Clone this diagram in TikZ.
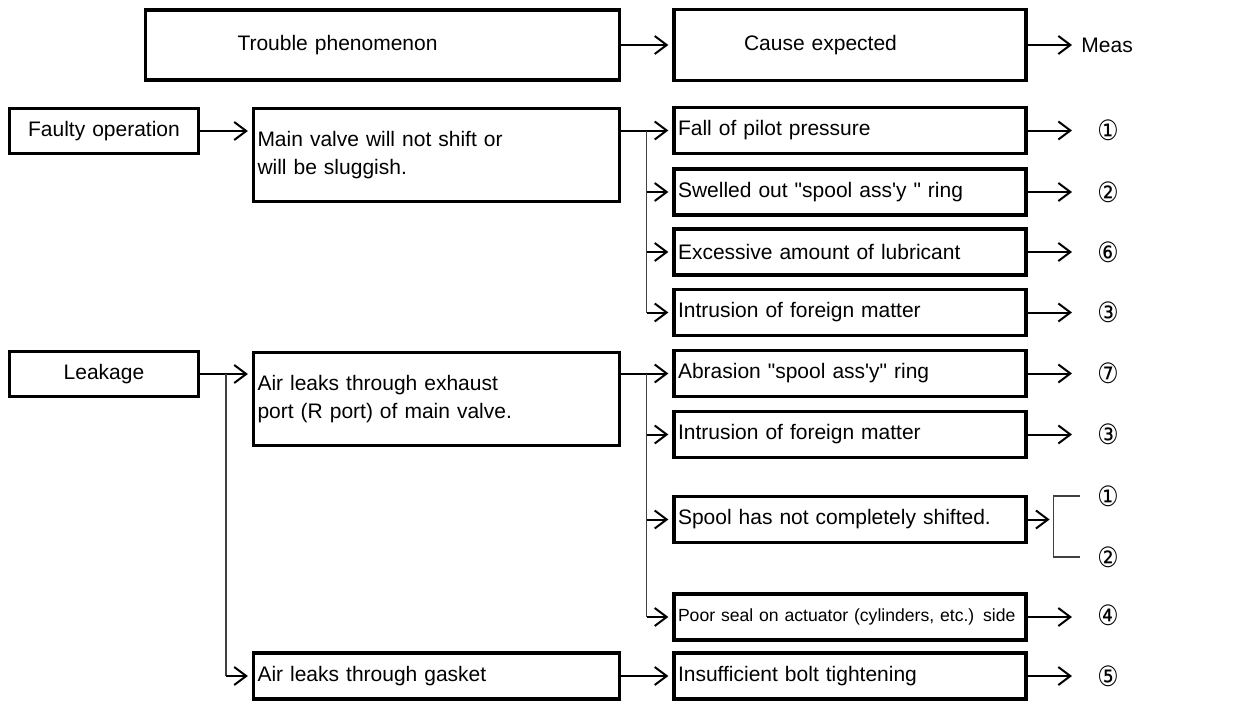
\documentclass[tikz,border=0pt]{standalone}
\usepackage{fontspec}
\usepackage{graphicx}
\usetikzlibrary{arrows.meta}
\usetikzlibrary{calc}
\newfontfamily\kastenfont{Liberation Sans}
\newfontfamily\zahlfont{DejaVu Sans}
\newcommand{\nr}[1]{\scalebox{0.85}[1]{#1}}

\begin{document}
\begin{tikzpicture}[x=0.5pt, y=-0.5pt,
	kasten/.style={draw, rectangle, line width=1.6pt, inner xsep=2pt, inner ysep=0pt, font=\kastenfont\fontsize{10.5}{14}\selectfont},
	kopf/.style={kasten, text width=172pt, align=left, minimum height=35.5pt},
	fehler/.style={kasten, text width=90.5pt, align=center, minimum height=22.5pt},
	phaen/.style={kasten, text width=179pt, align=left, minimum height=23pt},
	ursache/.style={kasten, text width=172pt, align=left, minimum height=23pt},
	nummer/.style={inner sep=0pt, font=\zahlfont\fontsize{14}{16}\selectfont},
	pfeil/.style={line width=1pt, -{Straight Barb[length=6pt,width=9pt]}, shorten >=2pt},
	ast/.style={line width=0.6pt, black!75}]

	\useasboundingbox (0,0) rectangle (1239,702);

	% Kopfzeile
	\node[kopf, text width=233pt, minimum height=35pt] (TP) at (382.5,45) {\hspace*{44pt}Trouble phenomenon};
	\node[kopf] (CE) at (850,45) {\hspace*{33pt}Cause expected};
	\node[anchor=west, inner sep=0pt, font=\kastenfont\fontsize{10.5}{14}\selectfont] (ME) at (1081,45) {Meas};

	\coordinate (spitze) at (1076,0);

	\draw[pfeil] (TP.east) -- (CE.west);
	\draw[pfeil] (CE.east) -- (CE.east -| spitze);

	% Faulty operation
	\node[fehler] (FO) at (104,131) {Faulty operation};
	\node[phaen, minimum height=46.5pt] (MV) at (436.5,155) {Main valve will not shift or\\will be sluggish.};

	\node[ursache] (U1) at (850,130.5) {Fall of pilot pressure};
	\node[ursache] (U2) at (850,192) {Swelled out "spool ass'y " ring};
	\node[ursache] (U3) at (850,252) {Excessive amount of lubricant};
	\node[ursache] (U4) at (850,312.5) {Intrusion of foreign matter};

	\node[nummer] (N1) at (1108,130) {\nr{①}};
	\node[nummer] (N2) at (1108,192) {\nr{②}};
	\node[nummer] (N3) at (1108,252) {\nr{⑥}};
	\node[nummer] (N4) at (1108,312) {\nr{③}};

	\draw[pfeil] (FO.east) -- (FO.east -| MV.west);

	\coordinate (G1) at ($(MV.east |- U1.west)!0.5!(U1.west)$);
	\draw[pfeil] (MV.east |- U1.west) -- (U1.west);
	\draw[ast] (G1) -- (G1 |- U4.west);
	\draw[pfeil] (G1 |- U2.west) -- (U2.west);
	\draw[pfeil] (G1 |- U3.west) -- (U3.west);
	\draw[pfeil] (G1 |- U4.west) -- (U4.west);

	\draw[pfeil] (U1.east) -- (U1.east -| spitze);
	\draw[pfeil] (U2.east) -- (U2.east -| spitze);
	\draw[pfeil] (U3.east) -- (U3.east -| spitze);
	\draw[pfeil] (U4.east) -- (U4.east -| spitze);

	% Leakage
	\node[fehler] (LK) at (104,374) {Leakage};
	\node[phaen, minimum height=46.5pt] (AE) at (436.5,399) {Air leaks through exhaust\\port (R port) of main valve.};
	\node[phaen] (GA) at (436.5,676) {Air leaks through gasket};

	\node[ursache] (U5) at (850,373.5) {Abrasion "spool ass'y" ring};
	\node[ursache] (U6) at (850,434.5) {Intrusion of foreign matter};
	\node[ursache] (U7) at (850,519.5) {Spool has not completely shifted.};
	\node[ursache, font=\kastenfont\fontsize{8.8}{12}\selectfont] (U8) at (850,617) {Poor seal on actuator (cylinders, etc.) side};
	\node[ursache] (U9) at (850,676) {Insufficient bolt tightening};

	\node[nummer] (N5) at (1108,373) {\nr{⑦}};
	\node[nummer] (N6) at (1108,434) {\nr{③}};
	\node[nummer] (N7) at (1108,496) {\nr{①}};
	\node[nummer] (N8) at (1108,557) {\nr{②}};
	\node[nummer] (N9) at (1108,615) {\nr{④}};
	\node[nummer] (N10) at (1108,676) {\nr{⑤}};

	\coordinate (G0) at ($(LK.east)!0.5!(LK.east -| AE.west)$);
	\draw[pfeil] (LK.east) -- (LK.east -| AE.west);
	\draw[ast] (G0) -- (G0 |- GA.west);
	\draw[pfeil] (G0 |- GA.west) -- (GA.west);

	\coordinate (G2) at ($(AE.east |- U5.west)!0.5!(U5.west)$);
	\draw[pfeil] (AE.east |- U5.west) -- (U5.west);
	\draw[ast] (G2) -- (G2 |- U8.west);
	\draw[pfeil] (G2 |- U6.west) -- (U6.west);
	\draw[pfeil] (G2 |- U7.west) -- (U7.west);
	\draw[pfeil] (G2 |- U8.west) -- (U8.west);
	\draw[pfeil] (GA.east) -- (U9.west);

	\draw[pfeil] (U5.east) -- (U5.east -| spitze);
	\draw[pfeil] (U6.east) -- (U6.east -| spitze);
	\draw[pfeil] (U8.east) -- (U8.east -| spitze);
	\draw[pfeil] (U9.east) -- (U9.east -| spitze);

	% Klammer
	\coordinate (klammer) at ($(U7.east)+(26,0)$);
	\coordinate (kende) at (1080,0);
	\draw[pfeil] (U7.east) -- (klammer);
	\draw[ast] (kende |- N7) -| (klammer) |- (kende |- N8);
\end{tikzpicture}
\end{document}
